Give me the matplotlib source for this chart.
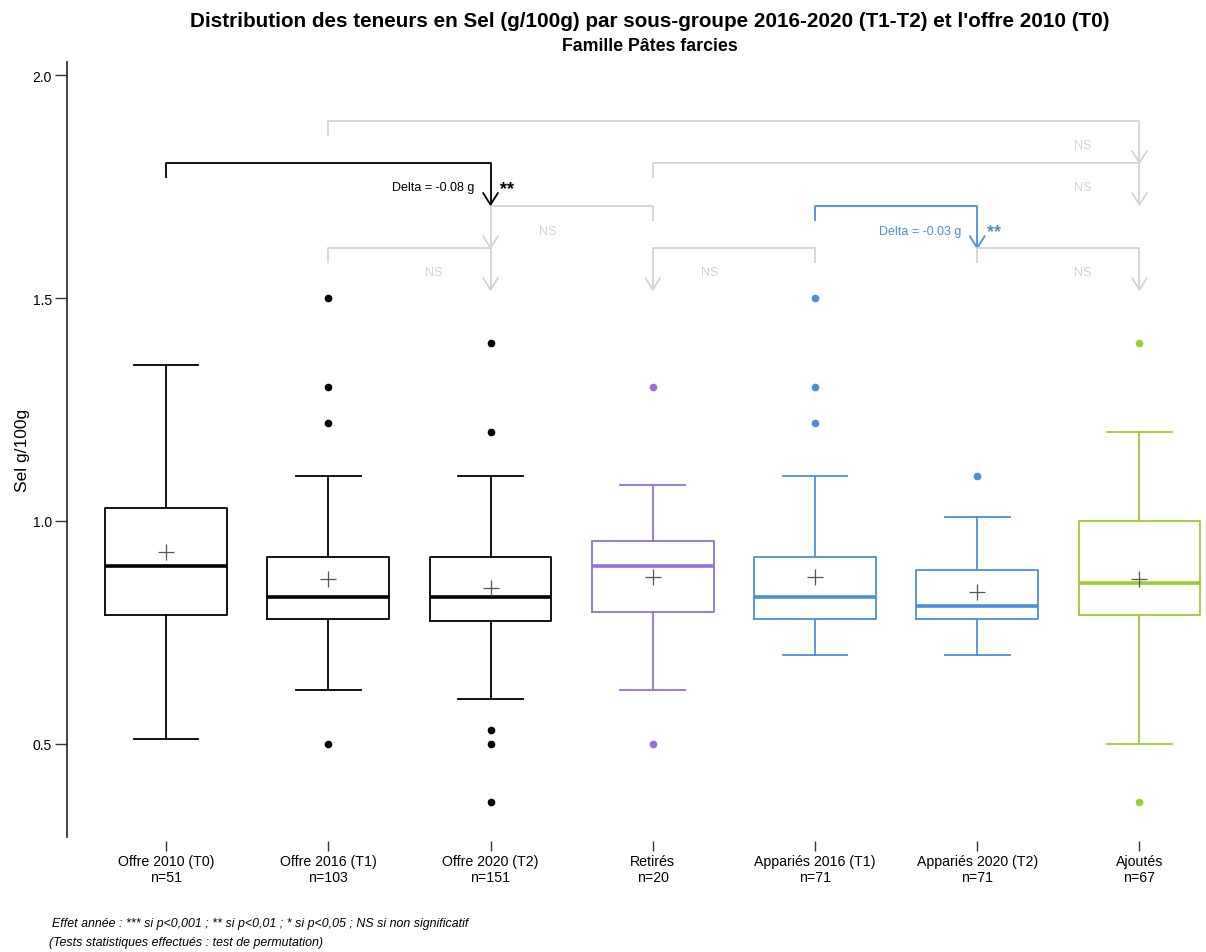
import matplotlib.pyplot as plt

plt.rcParams['font.family'] = ['Liberation Sans', 'DejaVu Sans']

# data
groupes = ['Offre 2010 (T0)', 'Offre 2016 (T1)', 'Offre 2020 (T2)', 'Retirés',
           'Appariés 2016 (T1)', 'Appariés 2020 (T2)', 'Ajoutés']
effectifs = [51, 103, 151, 20, 71, 71, 67]
moust_bas = [0.51, 0.62, 0.60, 0.62, 0.70, 0.70, 0.50]
q1 = [0.79, 0.78, 0.775, 0.795, 0.78, 0.78, 0.79]
mediane = [0.90, 0.83, 0.83, 0.90, 0.83, 0.81, 0.86]
q3 = [1.03, 0.92, 0.92, 0.955, 0.92, 0.89, 1.00]
moust_haut = [1.35, 1.10, 1.10, 1.08, 1.10, 1.01, 1.20]
moyenne = [0.93, 0.87, 0.85, 0.875, 0.875, 0.84, 0.87]
extremes = [[], [1.5, 1.3, 1.22, 0.5], [1.4, 1.2, 0.53, 0.5, 0.37], [1.3, 0.5],
            [1.5, 1.3, 1.22], [1.1], [1.4, 0.37]]
couleurs = ['black', 'black', 'black', '#9370DB', '#4A90D9', '#4A90D9', '#9ACD32']

# comparaisons : (depart, arrivee, niveau, texte delta, etoiles, couleur)
comparaisons = [
    (2, 7, 1.898, '', 'NS', '#d3d3d3'),
    (1, 3, 1.804, 'Delta = -0.08 g', '**', 'black'),
    (4, 7, 1.804, '', 'NS', '#d3d3d3'),
    (4, 3, 1.707, '', 'NS', '#d3d3d3'),
    (5, 6, 1.707, 'Delta = -0.03 g', '**', '#4A90D9'),
    (2, 3, 1.613, '', 'NS', '#d3d3d3'),
    (5, 4, 1.613, '', 'NS', '#d3d3d3'),
    (6, 7, 1.613, '', 'NS', '#d3d3d3'),
]

fig = plt.figure(figsize=(12.06, 9.53), dpi=100)
ax = fig.add_axes([0.0556, 0.1207, 0.9444, 0.8132])

for i in range(len(groupes)):
    st = dict(med=mediane[i], q1=q1[i], q3=q3[i], whislo=moust_bas[i],
              whishi=moust_haut[i], fliers=extremes[i], mean=moyenne[i])
    c = couleurs[i]
    ax.bxp([st], positions=[i + 1], widths=0.75, capwidths=0.4, showmeans=True,
           boxprops=dict(color=c, lw=1.3),
           whiskerprops=dict(color=c, lw=1.3),
           capprops=dict(color=c, lw=1.3),
           medianprops=dict(color=c, lw=2.6),
           flierprops=dict(marker='o', markerfacecolor=c, markeredgecolor=c,
                           markersize=4.5, linestyle='none'),
           meanprops=dict(marker='+', markeredgecolor='#555555', markersize=12,
                          markeredgewidth=0.9))

# crochets de comparaison
for a, b, niv, delta, sig, c in comparaisons:
    lw = 1.3
    ax.plot([a, a, b, b], [niv - 0.034, niv, niv, niv - 0.094], color=c, lw=lw,
            solid_capstyle='butt')
    ax.plot([b - 0.045, b, b + 0.045], [niv - 0.068, niv - 0.094, niv - 0.068],
            color=c, lw=lw)
    ty = niv - 0.055
    if delta:
        ax.text(b - 0.1, ty, delta, ha='right', va='center', fontsize=9,
                color=c)
        ax.text(b + 0.06, ty - 0.002, sig, ha='left', va='center', fontsize=13,
                color=c, fontweight='bold')
    elif a < b:
        ax.text(b - 0.35, ty, sig, ha='center', va='center', fontsize=9, color=c)
    else:
        ax.text(b + 0.35, ty, sig, ha='center', va='center', fontsize=9, color=c)

ax.set_xlim(0.39, 7.41)
ax.set_ylim(0.2907, 2.0303)
ax.set_yticks([0.5, 1.0, 1.5, 2.0])
ax.set_yticklabels(['0.5', '1.0', '1.5', '2.0'])
ax.set_xticks(range(1, len(groupes) + 1))
ax.set_xticklabels([f'{g}\nn={n}' for g, n in zip(groupes, effectifs)],
                   linespacing=0.95)
for s in ['top', 'right', 'bottom']:
    ax.spines[s].set_visible(False)
ax.spines['left'].set_color('#333333')
ax.spines['left'].set_linewidth(1.3)
ax.spines['bottom'].set_position(('outward', 3))
ax.tick_params(axis='y', length=9, width=1, color='#333333', labelsize=10, pad=2)
ax.tick_params(axis='x', length=7, width=1, color='#333333', labelsize=10.2, pad=2)
ax.set_ylabel('Sel g/100g', fontsize=12.5, labelpad=2)

fig.text(0.539, 0.977, "Distribution des teneurs en Sel (g/100g) par sous-groupe 2016-2020 (T1-T2) et l'offre 2010 (T0)",
         ha='center', va='center', fontsize=14.9, fontweight='bold')
fig.text(0.539, 0.951, 'Famille Pâtes farcies', ha='center', va='center',
         fontsize=12.8, fontweight='bold')
fig.text(0.043, 0.030, "Effet année : *** si p<0,001 ; ** si p<0,01 ; * si p<0,05 ; NS si non significatif",
         ha='left', va='center', fontsize=8.9, style='italic')
fig.text(0.041, 0.011, "(Tests statistiques effectués : test de permutation)",
         ha='left', va='center', fontsize=8.9, style='italic')

fig.savefig('out.png', dpi=100)
